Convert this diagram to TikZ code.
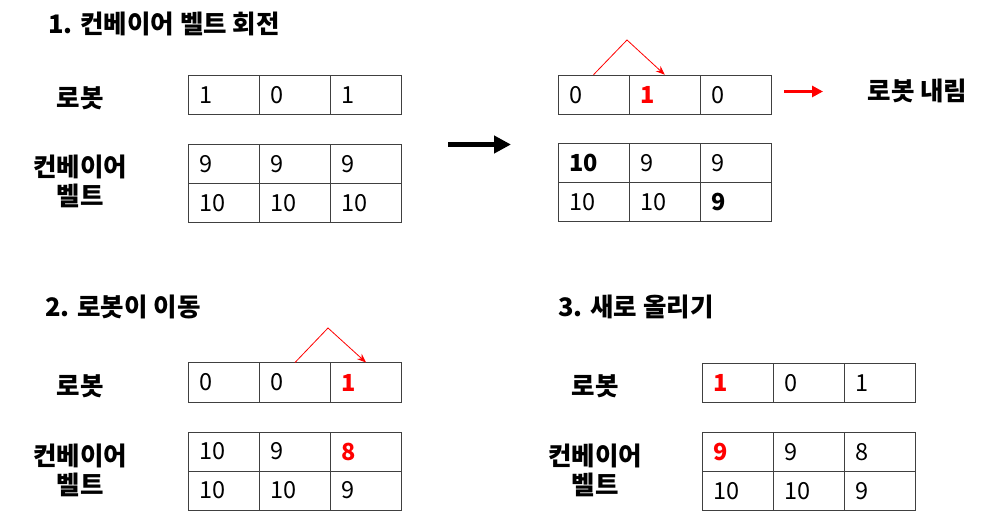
\documentclass[tikz,border=0pt]{standalone}
\usepackage{fontspec}
\setmainfont{Noto Sans CJK KR}
\usetikzlibrary{arrows.meta,calc}
\definecolor{MoveClr}{rgb}{1,0,0}
\definecolor{GridClr}{rgb}{0.25,0.25,0.25}

\begin{document}
\begin{tikzpicture}[x=1pt,y=-1pt,
  cell/.style={draw=GridClr,line width=1pt,minimum height=39pt,inner ysep=0pt,
    inner xsep=11pt,text width=49pt,align=left,font=\fontsize{23.5}{28}\selectfont},
  hot/.style={text=MoveClr,font=\fontsize{23.5}{28}\selectfont\bfseries},
  bold/.style={font=\fontsize{23.5}{28}\selectfont\bfseries},
  lbl/.style={align=center,inner sep=0pt,font=\fontsize{25.5}{29}\selectfont\bfseries},
  ttl/.style={anchor=west,inner sep=0pt,font=\fontsize{25.5}{29}\selectfont\bfseries},
  hop/.style={MoveClr,line width=0.8pt,-{Stealth[length=9pt,width=7pt]}}]
\useasboundingbox (0,0) rectangle (999,521);

% 1. left
\node[ttl] (Ta) at (48,24) {1. 컨베이어 벨트 회전};
\node[lbl] (La) at (80,98) {로봇};
\node[lbl] (Ka) at (80,181.5) {컨베이어\\벨트};
\node[cell] (Ra1) at (224,94.75) {1};
\node[cell] (Ra2) at (295,94.75) {0};
\node[cell] (Ra3) at (366,94.75) {1};
\node[cell] (Ua1) at (224,164.5) {9};
\node[cell] (Ua2) at (295,164.5) {9};
\node[cell] (Ua3) at (366,164.5) {9};
\node[cell] (Da1) at (224,203.5) {10};
\node[cell] (Da2) at (295,203.5) {10};
\node[cell] (Da3) at (366,203.5) {10};

% 1. right
\node[cell] (Rb1) at (593.5,94.75) {0};
\node[cell,hot] (Rb2) at (664.75,94.75) {1};
\node[cell] (Rb3) at (736,94.75) {0};
\node[cell,bold] (Ub1) at (593.5,163) {10};
\node[cell] (Ub2) at (664.75,163) {9};
\node[cell] (Ub3) at (736,163) {9};
\node[cell] (Db1) at (593.5,202) {10};
\node[cell] (Db2) at (664.75,202) {10};
\node[cell,bold] (Db3) at (736,202) {9};
\node[lbl] (Ob) at (917.5,91) {로봇 내림};

\coordinate (Pb) at (627,40);
\draw[hop] (Rb1.north) -- (Pb) -- (Rb2.north);

\coordinate (Sa) at (448,144.5);
\coordinate (Sb) at (511,144.5);
\draw[line width=5pt,-{Triangle[length=17pt,width=17pt]}] (Sa) -- (Sb);

\coordinate (Qa) at (784,91.5);
\coordinate (Qb) at (823,91.5);
\draw[MoveClr,line width=3pt,-{Triangle[length=11pt,width=11pt]}] (Qa) -- (Qb);

% 2.
\node[ttl] (Tc) at (45,307) {2. 로봇이 이동};
\node[lbl] (Lc) at (80,386) {로봇};
\node[lbl] (Kc) at (80,470) {컨베이어\\벨트};
\node[cell] (Rc1) at (224,382.5) {0};
\node[cell] (Rc2) at (295,382.5) {0};
\node[cell,hot] (Rc3) at (366,382.5) {1};
\node[cell] (Uc1) at (224,451.5) {10};
\node[cell] (Uc2) at (295,451.5) {9};
\node[cell,hot] (Uc3) at (366,451.5) {8};
\node[cell] (Dc1) at (224,490.5) {10};
\node[cell] (Dc2) at (295,490.5) {10};
\node[cell] (Dc3) at (366,490.5) {9};

\coordinate (Pc) at (328,328);
\draw[hop] (Rc2.north) -- (Pc) -- (Rc3.north);

% 3.
\node[ttl] (Td) at (558,307) {3. 새로 올리기};
\node[lbl] (Ld) at (595,386) {로봇};
\node[lbl] (Kd) at (595,470) {컨베이어\\벨트};
\node[cell,hot] (Rd1) at (738,383) {1};
\node[cell] (Rd2) at (809,383) {0};
\node[cell] (Rd3) at (880,383) {1};
\node[cell,hot] (Ud1) at (738,452) {9};
\node[cell] (Ud2) at (809,452) {9};
\node[cell] (Ud3) at (880,452) {8};
\node[cell] (Dd1) at (738,491) {10};
\node[cell] (Dd2) at (809,491) {10};
\node[cell] (Dd3) at (880,491) {9};

\end{tikzpicture}
\end{document}
